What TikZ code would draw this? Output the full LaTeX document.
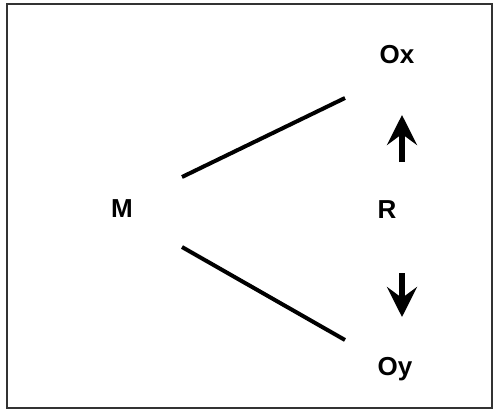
\documentclass[tikz,border=0pt]{standalone}
\usepackage{fontspec}
\setmainfont{Liberation Sans}
\usetikzlibrary{arrows.meta}
\begin{document}
\begin{tikzpicture}[x=1pt,y=-1pt,
  lbl/.style={font=\fontsize{26}{30}\selectfont\bfseries, inner sep=0pt, anchor=base},
  link/.style={line width=4pt},
  rarrow/.style={line width=6pt, -{Stealth[length=30pt,width=30pt,inset=11pt]}}]
  \useasboundingbox (0,0) rectangle (493,410);
  % outer frame
  \draw[line width=2pt, black!80] (7,4) rectangle (492,408);
  % labels
  \node[lbl] (M) at (122,217) {M};
  \node[lbl] (R) at (387,218) {R};
  \node[lbl] (Ox) at (397,63) {Ox};
  \node[lbl] (Oy) at (395,375) {Oy};
  % lines from M to the two observations
  \coordinate (m1) at (182,177);
  \coordinate (x1) at (345,98);
  \coordinate (m2) at (182,247);
  \coordinate (y1) at (345,340);
  \draw[link] (m1) -- (x1);
  \draw[link] (m2) -- (y1);
  % arrows from R
  \coordinate (ua) at (402,162);
  \coordinate (ub) at (402,115);
  \coordinate (da) at (402,273);
  \coordinate (db) at (402,317);
  \draw[rarrow] (ua) -- (ub);
  \draw[rarrow] (da) -- (db);
\end{tikzpicture}
\end{document}
